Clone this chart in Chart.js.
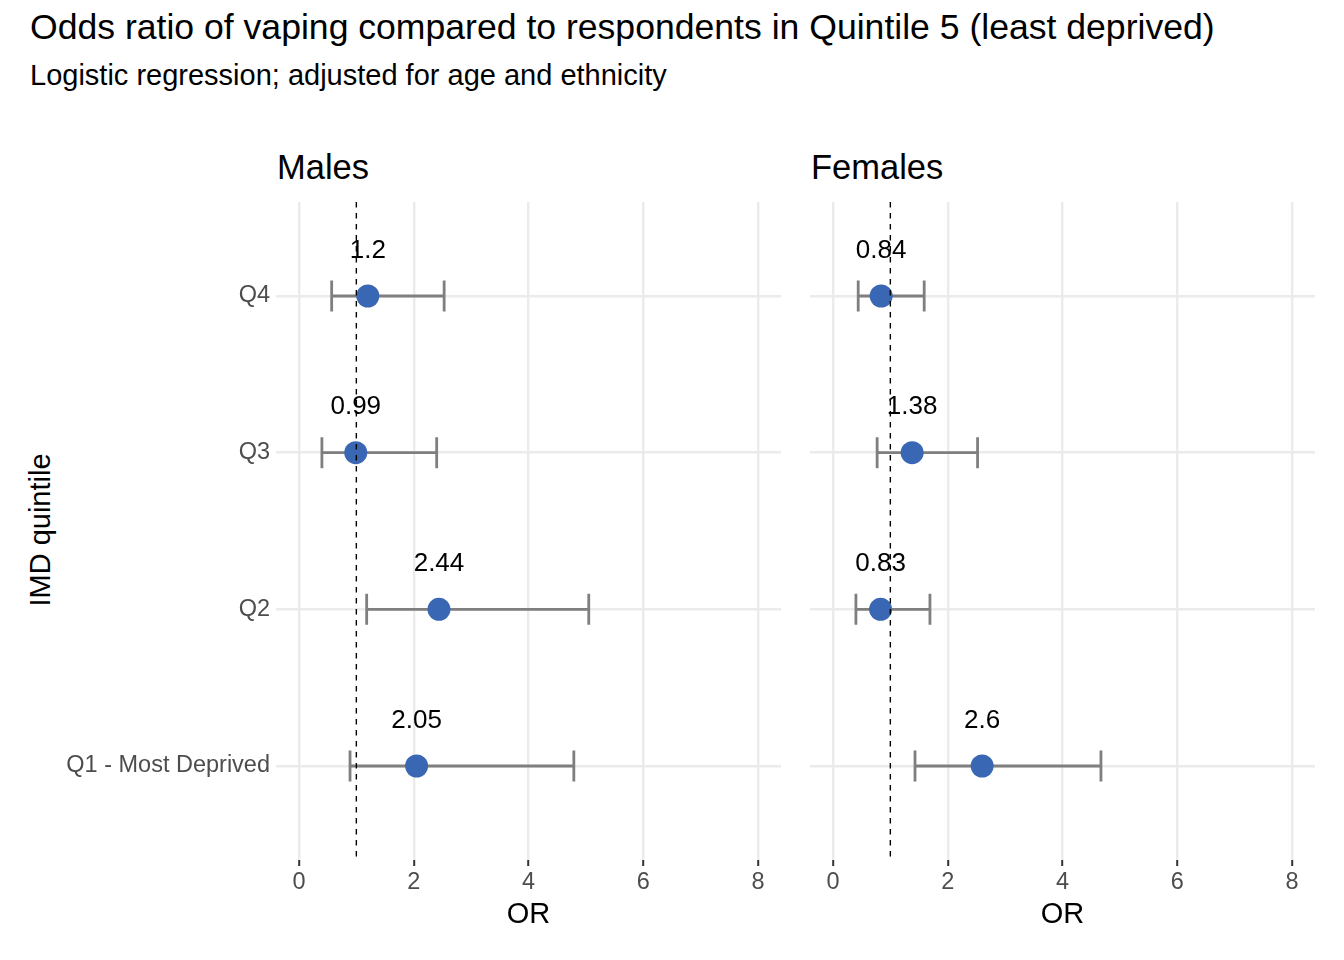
<!DOCTYPE html>
<html>
<head>
<meta charset="utf-8">
<script src="https://cdn.jsdelivr.net/npm/chart.js@4.4.1/dist/chart.umd.min.js"></script>
<style>
  html, body { margin: 0; padding: 0; background: #fff; }
  #wrap { position: relative; width: 1344px; height: 960px; background: #fff; overflow: hidden;
          font-family: "Liberation Sans", Arial, Helvetica, sans-serif; color: #000; }
  .txt { position: absolute; white-space: nowrap; line-height: 1; }
  #title { left: 30px; top: 10px; font-size: 35.6px; }
  #subtitle { left: 30px; top: 61px; font-size: 29px; }
  .strip { font-size: 34.5px; top: 150px; }
  #ytitle { font-size: 29px; left: 40px; top: 530px; transform: translate(-50%, -50%) rotate(-90deg); }
  canvas { position: absolute; top: 0; }
</style>
</head>
<body>
<div id="wrap">
  <div class="txt" id="title">Odds ratio of vaping compared to respondents in Quintile 5 (least deprived)</div>
  <div class="txt" id="subtitle">Logistic regression; adjusted for age and ethnicity</div>
  <div class="txt strip" style="left:277px">Males</div>
  <div class="txt strip" style="left:811px">Females</div>
  <div class="txt" id="ytitle">IMD quintile</div>
  <div style="position:absolute;left:0;top:0;width:795px;height:960px"><canvas id="cM"></canvas></div>
  <div style="position:absolute;left:795px;top:0;width:549px;height:960px"><canvas id="cF"></canvas></div>
</div>
<script>
// ---- data ----
const categories = ["Q4", "Q3", "Q2", "Q1 - Most Deprived"];
const panels = ["Males", "Females"];
const xTicks = [0, 2, 4, 6, 8];
const refLine = 1;
const maleOR   = [1.2, 0.99, 2.44, 2.05];
const maleLow  = [0.57, 0.40, 1.18, 0.89];
const maleHigh = [2.53, 2.40, 5.05, 4.79];
const femaleOR   = [0.84, 1.38, 0.83, 2.6];
const femaleLow  = [0.44, 0.77, 0.40, 1.43];
const femaleHigh = [1.59, 2.52, 1.69, 4.67];

const FONT = '"Liberation Sans", Arial, Helvetica, sans-serif';
const POINT_COLOR = '#3A67B4';
const BAR_COLOR = '#7F7F7F';
const GRID_COLOR = '#EBEBEB';

const forestPlugin = {
  id: 'forest',
  beforeDatasetsDraw(chart) {
    const o = chart.options.plugins.forest;
    const xs = chart.scales.x, ys = chart.scales.y, ctx = chart.ctx;
    ctx.save();
    ctx.strokeStyle = BAR_COLOR;
    ctx.lineWidth = 2.8;
    ctx.lineCap = 'butt';
    o.low.forEach((lo, i) => {
      const hi = o.high[i];
      const y = ys.getPixelForValue(i);
      const x1 = xs.getPixelForValue(lo), x2 = xs.getPixelForValue(hi);
      const h = 15.5;
      ctx.beginPath();
      ctx.moveTo(x1, y); ctx.lineTo(x2, y);
      ctx.moveTo(x1, y - h); ctx.lineTo(x1, y + h);
      ctx.moveTo(x2, y - h); ctx.lineTo(x2, y + h);
      ctx.stroke();
    });
    ctx.restore();
  },
  afterDatasetsDraw(chart) {
    const o = chart.options.plugins.forest;
    const xs = chart.scales.x, ys = chart.scales.y, ctx = chart.ctx;
    ctx.save();
    ctx.fillStyle = '#000';
    ctx.font = '26px ' + FONT;
    ctx.textAlign = 'center';
    ctx.textBaseline = 'middle';
    o.est.forEach((v, i) => {
      ctx.fillText(String(v), xs.getPixelForValue(v), ys.getPixelForValue(i - 0.29));
    });
    // reference line
    const xr = xs.getPixelForValue(refLine);
    ctx.strokeStyle = '#000';
    ctx.lineWidth = 1.4;
    ctx.setLineDash([5.5, 5.5]);
    ctx.beginPath();
    ctx.moveTo(xr, chart.chartArea.top);
    ctx.lineTo(xr, chart.chartArea.bottom);
    ctx.stroke();
    ctx.restore();
  }
};

function makeChart(id, est, low, high, showY, yWidth, padRight) {
  return new Chart(document.getElementById(id), {
    type: 'scatter',
    data: {
      datasets: [{
        data: est.map((v, i) => ({ x: v, y: i })),
        backgroundColor: POINT_COLOR,
        borderColor: POINT_COLOR,
        borderWidth: 0,
        pointRadius: 11.5,
        pointHoverRadius: 11.5
      }]
    },
    options: {
      responsive: true,
      maintainAspectRatio: false,
      animation: false,
      events: [],
      layout: { padding: { left: 0, right: padRight, top: 202, bottom: 0 } },
      plugins: {
        legend: { display: false },
        tooltip: { enabled: false },
        forest: { est: est, low: low, high: high }
      },
      scales: {
        x: {
          type: 'linear', min: -0.4, max: 8.4,
          afterBuildTicks(s) { s.ticks = xTicks.map(v => ({ value: v })); },
          afterFit(s) { s.height = 100; },
          border: { display: false },
          grid: { color: GRID_COLOR, lineWidth: 2.4, tickColor: '#333333', tickLength: 6, tickWidth: 2 },
          ticks: { color: '#4D4D4D', font: { family: FONT, size: 23.5 }, padding: 2, maxRotation: 0 },
          title: { display: true, text: 'OR', color: '#000', font: { family: FONT, size: 29 }, padding: { top: 0, bottom: 28 } }
        },
        y: {
          type: 'linear', min: -0.6, max: 3.6, reverse: true,
          afterBuildTicks(s) { s.ticks = categories.map((c, i) => ({ value: i })); },
          afterFit(s) { s.width = yWidth; },
          border: { display: false },
          grid: { color: GRID_COLOR, lineWidth: 2.4, drawTicks: false },
          ticks: {
            display: showY,
            color: '#4D4D4D', font: { family: FONT, size: 23.5 }, padding: 6,
            callback: (v) => categories[v]
          }
        }
      }
    },
    plugins: [forestPlugin]
  });
}

makeChart('cM', maleOR, maleLow, maleHigh, true, 276, 14);
makeChart('cF', femaleOR, femaleLow, femaleHigh, false, 15, 29);
</script>
</body>
</html>
